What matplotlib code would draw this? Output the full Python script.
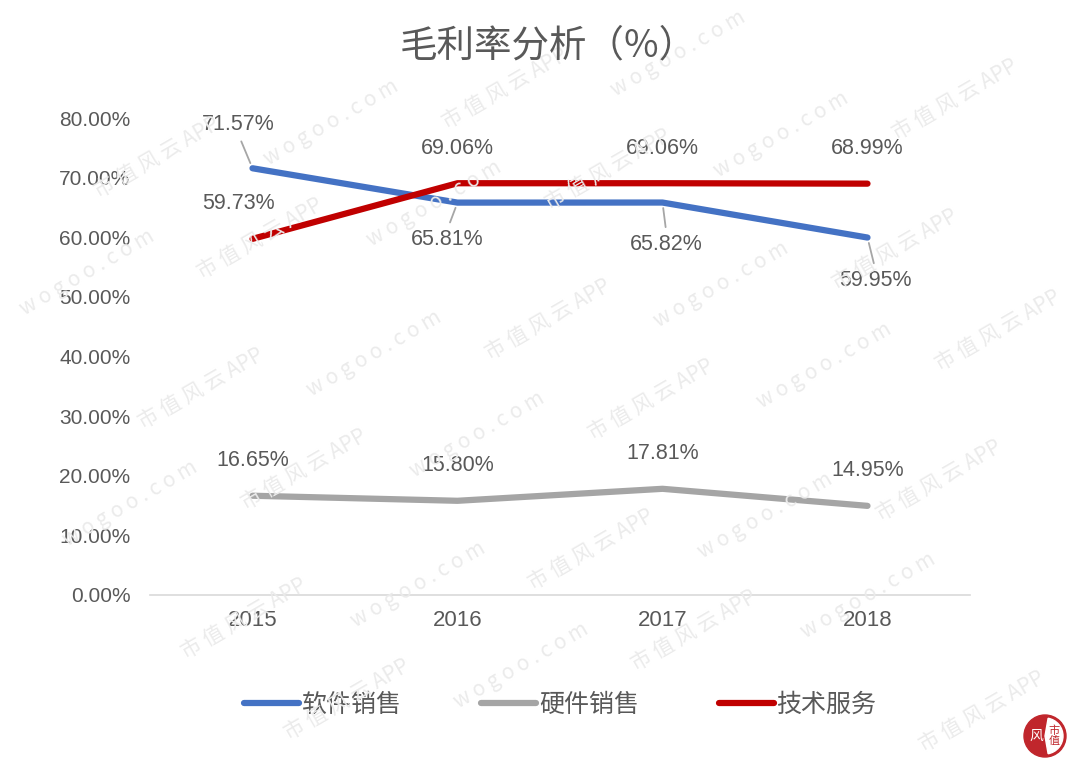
import matplotlib
matplotlib.use("Agg")
import matplotlib.pyplot as plt
from matplotlib.patches import Circle, Wedge

years = ["2015", "2016", "2017", "2018"]
software = [71.57, 65.81, 65.82, 59.95]
hardware = [16.65, 15.80, 17.81, 14.95]
service = [59.73, 69.06, 69.06, 68.99]
names = ["软件销售", "硬件销售", "技术服务"]
y_ticks = [0, 10, 20, 30, 40, 50, 60, 70, 80]

CJK = ["Noto Sans CJK SC", "DejaVu Sans"]
NUM = ["Liberation Sans", "DejaVu Sans"]
TXT = "#595959"
LBL = 15.5

fig = plt.figure(figsize=(10.85, 7.69), dpi=100)

# faint watermark lattice (only pieces that fit inside the figure are kept)
marks = []
for r in range(-4, 14):
    for c in range(-2, 10):
        x = 0.16 * c + 0.085 * (r % 2) - 0.02 * r
        y = 0.15 * r + 0.045 * c
        if -0.1 < x < 1.1 and -0.1 < y < 1.1:
            s = "w o g o o . c o m" if (r + c) % 2 else "市 值 风 云 APP"
            marks.append(fig.text(x, y, s, rotation=30, fontsize=15, color="#ebebeb",
                                  family=CJK, ha="center", va="center", zorder=0))
fig.canvas.draw()
rend = fig.canvas.get_renderer()
for t in marks:
    bb = t.get_window_extent(rend)
    if bb.x0 < 1 or bb.y0 < 1 or bb.x1 > 1084 or bb.y1 > 768:
        t.remove()

ax = fig.add_axes([150 / 1085, 174 / 769, 820 / 1085, 477 / 769])
ax.patch.set_alpha(0)
x = list(range(len(years)))

lines = []
for vals, col, nm in [(software, "#4472C4", names[0]),
                      (hardware, "#A5A5A5", names[1]),
                      (service, "#C00000", names[2])]:
    ln, = ax.plot(x, vals, color=col, lw=4.5, solid_capstyle="round",
                  label=nm, zorder=3)
    lines.append(ln)

ax.set_xlim(-0.5, 3.5)
ax.set_ylim(0, 80)
ax.set_yticks(y_ticks)
ax.set_yticklabels([f"{v:.2f}%" for v in y_ticks])
ax.set_xticks(x)
ax.set_xticklabels(years)
for lab in ax.get_yticklabels():
    lab.set_family(NUM)
    lab.set_fontsize(15)
    lab.set_color(TXT)
for lab in ax.get_xticklabels():
    lab.set_family(NUM)
    lab.set_fontsize(16)
    lab.set_color(TXT)
ax.tick_params(axis="y", length=0, pad=14)
ax.tick_params(axis="x", length=0, pad=11)
for side in ["top", "right", "left"]:
    ax.spines[side].set_visible(False)
ax.spines["bottom"].set_color("#D9D9D9")
ax.spines["bottom"].set_linewidth(1.2)

leader = dict(arrowstyle="-", color="#A6A6A6", lw=1.3, shrinkA=3, shrinkB=4)

# label offsets in pixels (dx, dy); leader lines where labels were dragged
sw_off = [(-14, 44), (-10, -37), (4, -42), (8, -43)]
for i, v in enumerate(software):
    dx, dy = sw_off[i]
    ap = dict(leader, relpos=(0.5, 0) if dy > 0 else (0.5, 1))
    ax.annotate(f"{v:.2f}%", (i, v), xytext=(dx, dy), textcoords="offset pixels",
                ha="center", va="center", fontsize=LBL, color=TXT, family=NUM,
                arrowprops=ap, zorder=4)

sv_off = [(-14, 35), (0, 35), (0, 35), (0, 35)]
for i, v in enumerate(service):
    dx, dy = sv_off[i]
    ax.annotate(f"{v:.2f}%", (i, v), xytext=(dx, dy), textcoords="offset pixels",
                ha="center", va="center", fontsize=LBL, color=TXT, family=NUM, zorder=4)

for i, v in enumerate(hardware):
    ax.annotate(f"{v:.2f}%", (i, v), xytext=(0, 35), textcoords="offset pixels",
                ha="center", va="center", fontsize=LBL, color=TXT, family=NUM, zorder=4)

fig.text(548 / 1085, 0.94, "毛利率分析（%）", ha="center", va="center",
         fontsize=27, color=TXT, family=CJK)

leg = ax.legend(handles=lines, loc="center", bbox_to_anchor=(0.5, -0.23),
                ncol=3, frameon=False, handlelength=2.2, handletextpad=0.1,
                columnspacing=3.2, prop={"family": CJK, "size": 18})
for t in leg.get_texts():
    t.set_color(TXT)

# corner logo
logo = fig.add_axes([1020 / 1085, 8 / 769, 50 / 1085, 50 / 769])
logo.set_xlim(0, 1)
logo.set_ylim(0, 1)
logo.set_aspect("equal")
logo.axis("off")
logo.add_patch(Circle((0.5, 0.5), 0.42, color="#C0262C"))
logo.add_patch(Wedge((0.5, 0.5), 0.36, -80, 80, color="white"))
logo.text(0.32, 0.5, "风", color="white", fontsize=10, family=CJK,
          ha="center", va="center")
logo.text(0.68, 0.5, "市\n值", color="#C0262C", fontsize=8, family=CJK,
          ha="center", va="center", linespacing=1.0)

fig.savefig("out.png", dpi=100)
